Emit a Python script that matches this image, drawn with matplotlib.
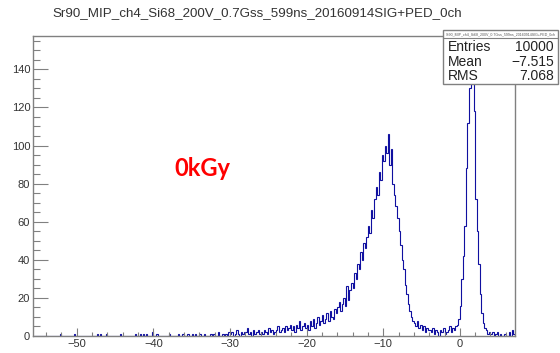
import numpy as np
import matplotlib
matplotlib.use('Agg')
import matplotlib.pyplot as plt
from matplotlib.patches import Rectangle
from matplotlib.ticker import MultipleLocator

# histogram binning (0.2 wide bins from -55.6 to 7.2)
x_lo = -55.6
bin_w = 0.2
n_bins = 314

# sparse counts far left of the signal (bin left edge, count)
sparse_x = [-52.2, -50.4, -47.4, -47.0, -46.2, -44.4, -42.4, -41.8, -41.4, -41.0,
            -40.2, -39.6, -38.0, -36.8, -36.2, -35.6, -35.0, -34.6, -34.0, -33.4,
            -32.6, -32.2, -31.6, -31.0, -30.6, -30.2]
sparse_n = [1, 1, 1, 1, 1, 1, 1, 1, 1, 1,
            2, 1, 1, 1, 1, 1, 1, 1, 1, 1,
            1, 1, 2, 1, 1, 2]

# -30 .. -22
rise = [1, 2, 0, 1, 3, 1, 0, 2, 1, 2,
        2, 4, 1, 2, 0, 3, 1, 2, 3, 1,
        2, 1, 3, 2, 1, 4, 2, 3, 1, 2,
        3, 5, 2, 3, 4, 2, 5, 3, 4, 6]
# -22 .. -4
signal = [3, 5, 2, 6, 4, 8, 3, 5, 7, 4,
          6, 3, 8, 5, 9, 4, 7, 10, 6, 8,
          11, 7, 9, 12, 8, 13, 10, 9, 14, 12,
          15, 18, 13, 17, 20, 16, 26, 19, 24, 28,
          25, 33, 30, 38, 35, 44, 40, 49, 46, 52,
          58, 54, 66, 62, 72, 78, 74, 86, 82, 95,
          92, 100, 96, 106, 90, 98, 80, 74, 68, 62,
          55, 48, 40, 35, 27, 22, 17, 13, 10, 8,
          7, 5, 8, 4, 6, 3, 5, 2, 4, 3]
# -4 .. -0.4
valley = [3, 2, 4, 1, 3, 2, 0, 3, 2, 4, 1, 2, 3, 5, 2, 4, 3, 5]
# -0.4 .. 4.0
pedestal = [6, 9, 16, 30, 42, 58, 88, 112, 130, 142, 150,
            118, 72, 55, 38, 22, 12, 7, 4, 3, 1, 2]
# 4.0 .. 7.2
right = [1, 2, 0, 1, 2, 0, 1, 0, 0, 1, 0, 0, 2, 0, 3, 1]

title = "Sr90_MIP_ch4_Si68_200V_0.7Gss_599ns_20160914SIG+PED_0ch"
stat_names = ["Entries", "Mean", "RMS"]
stat_vals = ["10000", "\u22127.515", "7.068"]

edges = x_lo + bin_w * np.arange(n_bins + 1)
counts = np.zeros(n_bins)
for xx, nn in zip(sparse_x, sparse_n):
    counts[int(round((xx - x_lo) / bin_w))] = nn
dense = rise + signal + valley + pedestal + right
start = int(round((-30.0 - x_lo) / bin_w))
counts[start:start + len(dense)] = dense

plt.rcParams['font.family'] = ['Liberation Sans', 'DejaVu Sans']
fig = plt.figure(figsize=(5.6, 3.53), dpi=100)
ax = fig.add_axes([33/560, 17/353, 482/560, 300/353])

ax.stairs(counts, edges, color='#1010a0', lw=0.8)
ax.set_xlim(-55.7, 7.2)
ax.set_ylim(0, 157.5)

frame_c = '#808080'
for s in ax.spines.values():
    s.set_color(frame_c)
    s.set_linewidth(1.0)

ax.xaxis.set_major_locator(MultipleLocator(10))
ax.xaxis.set_minor_locator(MultipleLocator(2))
ax.yaxis.set_major_locator(MultipleLocator(20))
ax.yaxis.set_minor_locator(MultipleLocator(5))
ax.tick_params(axis='x', which='major', direction='in', length=5.8, width=0.8,
               color=frame_c, labelsize=8, labelcolor='#333333', pad=2)
ax.tick_params(axis='x', which='minor', direction='in', length=2.9, width=0.8, color=frame_c)
ax.tick_params(axis='y', which='major', direction='in', length=10.5, width=0.8,
               color=frame_c, labelsize=8, labelcolor='#333333', pad=2)
ax.tick_params(axis='y', which='minor', direction='in', length=5, width=0.8, color=frame_c)

fig.text(257/560, 1 - 13/353, title, ha='center', va='center', fontsize=9.6, color='#333333')

ax.text(0.3107, 0.5014, "0kGy", transform=fig.transFigure, fontsize=17,
        fontweight='bold', color='red', family='Lato', ha='left', va='baseline')

# stats box
bx0, bx1 = 443/560, 558/560
by0, by1 = 1 - 84/353, 1 - 30/353
fig.patches.append(Rectangle((bx0, by0), bx1 - bx0, by1 - by0, transform=fig.transFigure,
                             facecolor='white', edgecolor=frame_c, lw=1.0, zorder=5))
fig.lines.append(plt.Line2D([bx0, bx1], [1 - 38/353] * 2, transform=fig.transFigure,
                            color=frame_c, lw=0.8, zorder=6))
fig.text((bx0 + bx1) / 2, 1 - 34/353, title, ha='center', va='center', fontsize=2.6,
         color='#555555', zorder=7)
for i, (nm, vv) in enumerate(zip(stat_names, stat_vals)):
    yy = 1 - (47 + 14.5 * i) / 353
    fig.text(448/560, yy, nm, ha='left', va='center', fontsize=10, color='#222222', zorder=7)
    fig.text(554/560, yy, vv, ha='right', va='center', fontsize=10, color='#222222', zorder=7)

fig.savefig('out.png', dpi=100)
